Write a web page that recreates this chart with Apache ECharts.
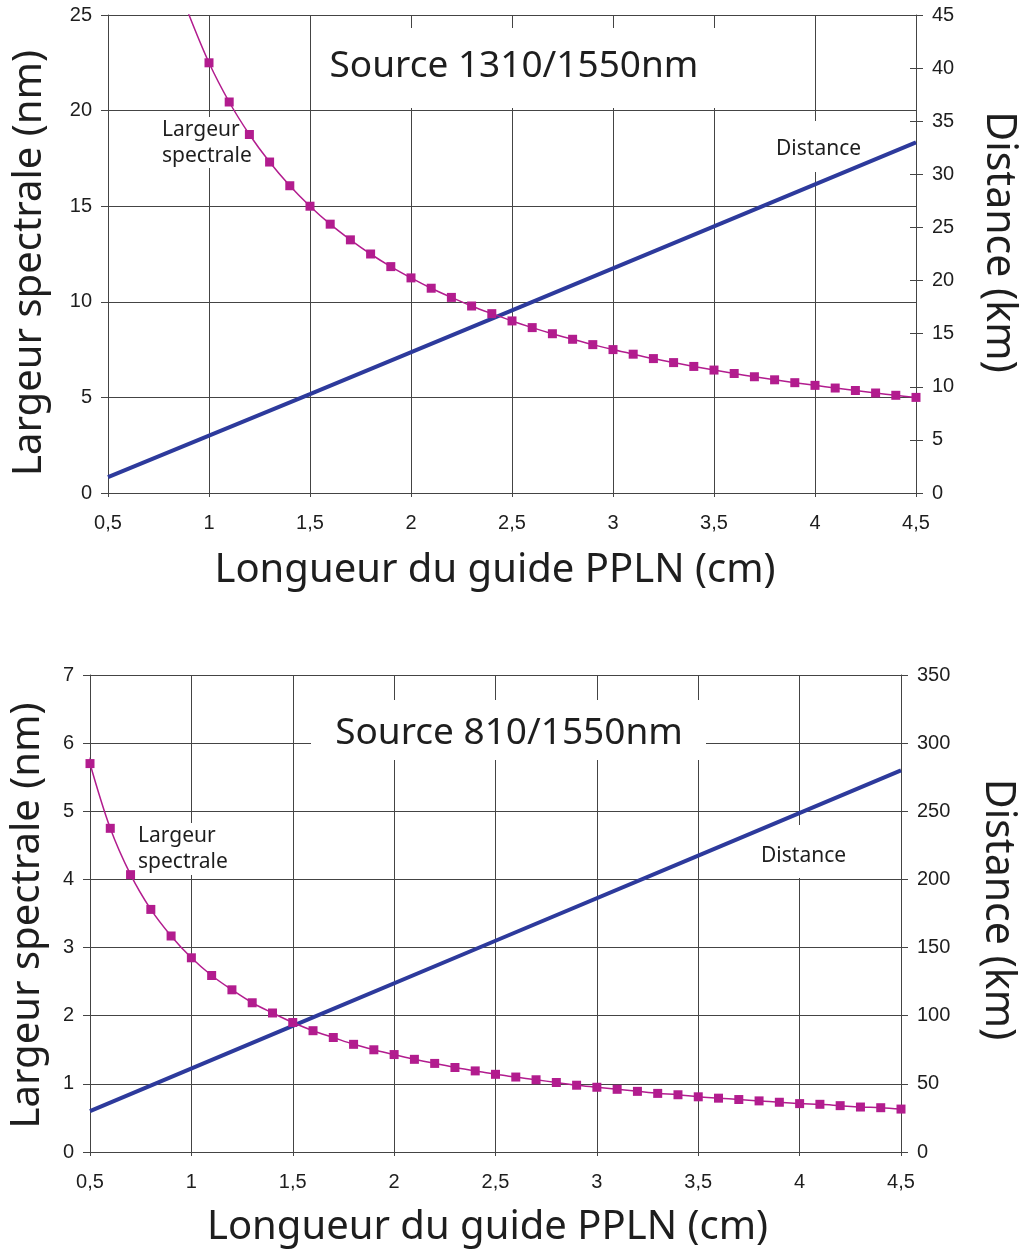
<!DOCTYPE html>
<html><head><meta charset="utf-8">
<script src="https://cdn.jsdelivr.net/npm/echarts@6/dist/echarts.min.js"></script>
<style>html,body{margin:0;padding:0;background:#fff}#c{width:1027px;height:1249px}</style>
</head><body><div id="c"></div>
<script>
// ---- Data ----
const xTickLabels = ['0,5','1','1,5','2','2,5','3','3,5','4','4,5'];

// Top chart: Source 1310/1550nm
const topWidthLeadX = [0.89];          // curve start (no marker), clipped at top
const topWidthLeadY = [25.3];
const topWidthX = [1.0,1.1,1.2,1.3,1.4,1.5,1.6,1.7,1.8,1.9,2.0,2.1,2.2,2.3,2.4,2.5,2.6,2.7,2.8,2.9,3.0,3.1,3.2,3.3,3.4,3.5,3.6,3.7,3.8,3.9,4.0,4.1,4.2,4.3,4.4,4.5];
const topWidthY = [22.5,20.45,18.75,17.31,16.07,15.0,14.06,13.24,12.5,11.84,11.25,10.71,10.23,9.78,9.38,9.0,8.65,8.33,8.04,7.76,7.5,7.26,7.03,6.82,6.62,6.43,6.25,6.08,5.92,5.77,5.63,5.49,5.36,5.23,5.11,5.0];
const topDistX = [0.5, 1.5, 2.5, 3.5, 4.5];
const topDistY = [1.5, 9.3, 17.2, 25.1, 33.0];

// Bottom chart: Source 810/1550nm
const botWidthLeadX = [0.475];
const botWidthLeadY = [6.05];
const botWidthX = [0.5,0.6,0.7,0.8,0.9,1.0,1.1,1.2,1.3,1.4,1.5,1.6,1.7,1.8,1.9,2.0,2.1,2.2,2.3,2.4,2.5,2.6,2.7,2.8,2.9,3.0,3.1,3.2,3.3,3.4,3.5,3.6,3.7,3.8,3.9,4.0,4.1,4.2,4.3,4.4,4.5];
const botWidthY = [5.70,4.75,4.07,3.56,3.17,2.85,2.59,2.38,2.19,2.04,1.90,1.78,1.68,1.58,1.50,1.43,1.36,1.30,1.24,1.19,1.14,1.10,1.06,1.02,0.98,0.95,0.92,0.89,0.86,0.84,0.81,0.79,0.77,0.75,0.73,0.71,0.70,0.68,0.66,0.65,0.63];
const botDistX = [0.5, 1.5, 2.5, 3.5, 4.5];
const botDistY = [30, 92.5, 155, 217.5, 280];

// ---- Styling ----
const MAG = '#B21C8E', BLUE = '#2D3A9C', GRID = '#444', TXT = '#1e1e1e';
const TITLEFONT = '"Noto Sans", sans-serif';
const TICKFONT = '"Liberation Sans", Arial, sans-serif';

function zip(xs, ys) { return xs.map((x, i) => [x, ys[i]]); }
function curveData(lx, ly, xs, ys) {
  return zip(lx, ly).map(p => ({ value: p, symbol: 'none' })).concat(zip(xs, ys));
}

function xAxisCfg(gridIndex, namePadding, nameGap) {
  return {
    type: 'value', gridIndex, min: 0.5, max: 4.5, interval: 0.5,
    axisLine: { show: true, lineStyle: { color: GRID, width: 1 } },
    axisTick: { show: true, length: 4, lineStyle: { color: GRID } },
    splitLine: { show: true, lineStyle: { color: GRID, width: 1 } },
    axisLabel: { margin: 20, fontSize: 20, fontFamily: TICKFONT, color: TXT,
      formatter: v => xTickLabels[Math.round((v - 0.5) / 0.5)] },
    name: 'Longueur du guide PPLN (cm)', nameLocation: 'middle', nameGap,
    nameTextStyle: { fontFamily: TITLEFONT, fontSize: 40, color: TXT, padding: namePadding }
  };
}
function yLeftCfg(gridIndex, max, interval, nameGap, namePadding) {
  return {
    type: 'value', gridIndex, position: 'left', min: 0, max, interval,
    axisLine: { show: true, lineStyle: { color: GRID, width: 1 } },
    axisTick: { show: true, length: 7, lineStyle: { color: GRID } },
    splitLine: { show: true, lineStyle: { color: GRID, width: 1 } },
    axisLabel: { margin: 16, fontSize: 20, fontFamily: TICKFONT, color: TXT },
    name: 'Largeur spectrale (nm)', nameLocation: 'middle', nameGap, nameRotate: 90,
    nameTextStyle: { fontFamily: TITLEFONT, fontSize: 40, color: TXT, padding: namePadding }
  };
}
function yRightCfg(gridIndex, max, interval, nameGap, namePadding) {
  return {
    type: 'value', gridIndex, position: 'right', min: 0, max, interval,
    axisLine: { show: true, lineStyle: { color: GRID, width: 1 } },
    axisTick: { show: true, length: 7, lineStyle: { color: GRID } },
    splitLine: { show: false },
    axisLabel: { margin: 16, fontSize: 20, fontFamily: TICKFONT, color: TXT },
    name: 'Distance (km)', nameLocation: 'middle', nameGap, nameRotate: -90,
    nameTextStyle: { fontFamily: TITLEFONT, fontSize: 41, color: TXT, padding: namePadding }
  };
}
function yRightInner(gridIndex, max, interval) {
  return {
    type: 'value', gridIndex, position: 'right', min: 0, max, interval,
    axisLine: { show: false }, splitLine: { show: false }, axisLabel: { show: false },
    axisTick: { show: true, inside: true, length: 6, lineStyle: { color: GRID } }
  };
}

function box(x, y, w, h) {
  return { type: 'rect', z: 1, shape: { x, y, width: w, height: h }, style: { fill: '#fff' }, silent: true };
}
function label(x, y, text, size, align) {
  return { type: 'text', z: 1, x, y, silent: true,
    style: { text, fill: TXT, font: size + 'px ' + TITLEFONT, textAlign: align || 'left',
      textVerticalAlign: 'middle', lineHeight: 26 } };
}

const option = {
  animation: false,
  backgroundColor: '#fff',
  grid: [
    { left: 108, top: 15, width: 810, height: 478 },
    { left: 89, top: 675, width: 812, height: 478 }
  ],
  xAxis: [xAxisCfg(0, [0, 34, 0, 0], 58), xAxisCfg(1, [0, 16, 0, 0], 56)],
  yAxis: [
    yLeftCfg(0, 25, 5, 58, [0, 18, 0, 0]),
    yRightCfg(0, 45, 5, 62, [0, 24, 0, 0]),
    yLeftCfg(1, 7, 1, 42, [0, 4, 0, 0]),
    yRightCfg(1, 350, 50, 76, [0, 8, 0, 0]),
    yRightInner(0, 45, 5),
    yRightInner(1, 350, 50)
  ],
  graphic: { elements: [
    box(311, 28, 404, 80), label(514, 66, 'Source 1310/1550nm', 37, 'center'),
    box(311, 700, 395, 60), label(509, 733, 'Source 810/1550nm', 37, 'center'),
    box(160, 117, 80, 51), label(162, 143, 'Largeur\nspectrale', 21),
    box(774, 121, 90, 51), label(776, 149, 'Distance', 21),
    box(136, 823, 94, 52), label(138, 849, 'Largeur\nspectrale', 21),
    box(759, 825, 88, 53), label(761, 856, 'Distance', 21)
  ]},
  series: [
    { type: 'line', xAxisIndex: 0, yAxisIndex: 0, smooth: 0.35, symbol: 'rect', symbolSize: 9,
      itemStyle: { color: MAG }, lineStyle: { color: MAG, width: 1.5 }, z: 3,
      data: curveData(topWidthLeadX, topWidthLeadY, topWidthX, topWidthY) },
    { type: 'line', xAxisIndex: 0, yAxisIndex: 1, symbol: 'none',
      lineStyle: { color: BLUE, width: 4 }, z: 2, data: zip(topDistX, topDistY) },
    { type: 'line', xAxisIndex: 1, yAxisIndex: 2, smooth: 0.35, symbol: 'rect', symbolSize: 9, clip: false,
      itemStyle: { color: MAG }, lineStyle: { color: MAG, width: 1.5 }, z: 3,
      data: curveData(botWidthLeadX, botWidthLeadY, botWidthX, botWidthY) },
    { type: 'line', xAxisIndex: 1, yAxisIndex: 3, symbol: 'none',
      lineStyle: { color: BLUE, width: 4 }, z: 2, data: zip(botDistX, botDistY) }
  ]
};
const chart = echarts.init(document.getElementById('c'), null, { renderer: 'canvas' });
chart.setOption(option);
</script></body></html>
